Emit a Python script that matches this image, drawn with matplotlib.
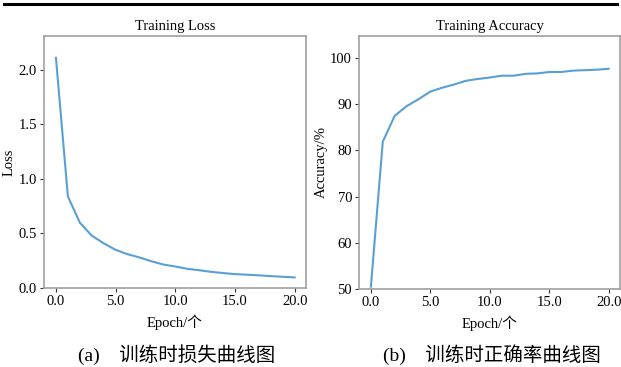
import matplotlib
matplotlib.use("Agg")
import matplotlib.pyplot as plt
from matplotlib.lines import Line2D

plt.rcParams['font.family'] = ['Liberation Serif', 'Noto Sans CJK SC']

epochs = list(range(21))
loss = [2.11, 0.84, 0.60, 0.48, 0.41, 0.35, 0.31, 0.28, 0.245, 0.215, 0.197,
        0.176, 0.163, 0.148, 0.137, 0.127, 0.122, 0.116, 0.109, 0.103, 0.097]
acc = [50.5, 81.9, 87.5, 89.6, 91.1, 92.75, 93.6, 94.3, 95.1, 95.5, 95.8,
       96.2, 96.2, 96.6, 96.7, 97.0, 97.0, 97.3, 97.4, 97.5, 97.7]
xticks = [0, 5, 10, 15, 20]

line_color = '#5a9fd4'
spine_color = '#a0a0a0'

fig = plt.figure(figsize=(6.21, 3.67), dpi=100)
ax1 = fig.add_axes([44 / 621, 1 - 288 / 367, 262 / 621, 252 / 367])
ax2 = fig.add_axes([359 / 621, 1 - 289 / 367, 261 / 621, 253 / 367])


def style(ax):
    for s in ax.spines.values():
        s.set_color(spine_color)
        s.set_linewidth(1.2)
    ax.tick_params(axis='both', colors='#333333', labelcolor='black',
                   labelsize=10.5, length=3, width=0.8, pad=2)
    ax.set_xticks(xticks)
    ax.set_xticklabels([f"{v:.1f}" for v in xticks])
    ax.set_xlim(-1, 20.95)


ax1.plot(epochs, loss, color=line_color, lw=1.5)
style(ax1)
ax1.set_ylim(0, 2.31)
ax1.set_yticks([0, 0.5, 1.0, 1.5, 2.0])
ax1.set_yticklabels(["0.0", "0.5", "1.0", "1.5", "2.0"])
ax1.set_title("Training Loss", fontsize=10.5, pad=4)
ax1.set_xlabel("Epoch/个", fontsize=10.5, labelpad=5)
ax1.set_ylabel("Loss", fontsize=10.5, labelpad=2)

ax2.plot(epochs, acc, color=line_color, lw=1.5)
style(ax2)
ax2.set_ylim(50, 104.8)
ax2.set_yticks([50, 60, 70, 80, 90, 100])
ax2.set_title("Training Accuracy", fontsize=10.5, pad=4)
ax2.set_xlabel("Epoch/个", fontsize=10.5, labelpad=5)
ax2.set_ylabel("Accuracy/%", fontsize=10.5, labelpad=2)

fig.text(177 / 621, 1 - 355 / 367, "(a)    训练时损失曲线图", fontsize=14,
         ha='center', va='center')
fig.text(492 / 621, 1 - 355 / 367, "(b)    训练时正确率曲线图", fontsize=14,
         ha='center', va='center')

fig.add_artist(Line2D([4 / 621, 617 / 621], [1 - 4 / 367, 1 - 4 / 367],
                      transform=fig.transFigure, color='black', lw=2.2))

fig.savefig("out.png", dpi=100)
